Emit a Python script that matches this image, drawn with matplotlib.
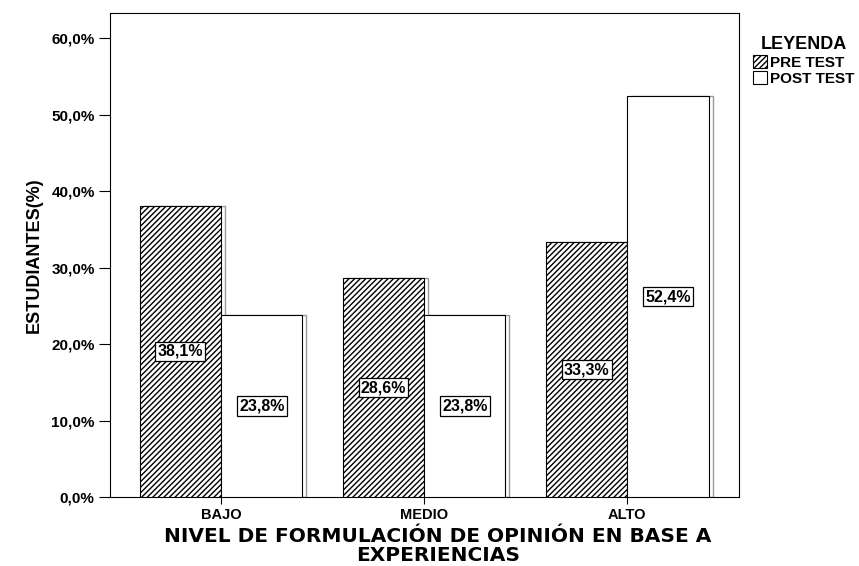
import matplotlib
matplotlib.use("Agg")
import matplotlib.pyplot as plt
import numpy as np

plt.rcParams['font.family'] = ['Liberation Sans', 'DejaVu Sans']
plt.rcParams['hatch.linewidth'] = 1.0

categories = ["BAJO", "MEDIO", "ALTO"]
pre_test = [38.1, 28.6, 33.3]
post_test = [23.8, 23.8, 52.4]
pre_labels = ["38,1%", "28,6%", "33,3%"]
post_labels = ["23,8%", "23,8%", "52,4%"]
yticks = [0, 10, 20, 30, 40, 50, 60]
ytick_labels = ["0,0%", "10,0%", "20,0%", "30,0%", "40,0%", "50,0%", "60,0%"]

fig = plt.figure(figsize=(8.59, 5.66), dpi=100)
ax = fig.add_axes([110/859, 1-497/566, (739-110)/859, (497-13)/566])

x = np.arange(len(categories))
w = 0.4
pre_bars = ax.bar(x - w/2, pre_test, w, facecolor='white', edgecolor='black',
                  hatch='//////', linewidth=0.8, label='PRE TEST', zorder=3)
post_bars = ax.bar(x + w/2, post_test, w, facecolor='white', edgecolor='black',
                   linewidth=0.8, label='POST TEST', zorder=3)
# subtle shadow edges
ax.bar(x - w/2 + 0.02, pre_test, w, facecolor='none', edgecolor='#999999',
       linewidth=1.0, zorder=2)
ax.bar(x + w/2 + 0.02, post_test, w, facecolor='none', edgecolor='#999999',
       linewidth=1.0, zorder=2)

for i in range(len(categories)):
    ax.text(x[i] - w/2, pre_test[i]/2, pre_labels[i], ha='center', va='center',
            fontsize=11.5, fontweight='bold', zorder=5,
            bbox=dict(boxstyle='square,pad=0.14', facecolor='white', edgecolor='black', linewidth=0.9))
    ax.text(x[i] + w/2, post_test[i]/2, post_labels[i], ha='center', va='center',
            fontsize=11.5, fontweight='bold', zorder=5,
            bbox=dict(boxstyle='square,pad=0.14', facecolor='white', edgecolor='black', linewidth=0.9))

ax.set_xlim(-0.547, 2.55)
ax.set_ylim(0, 63.3)
ax.set_yticks(yticks)
ax.set_yticklabels(ytick_labels, fontsize=11, fontweight='bold')
ax.set_xticks(x)
ax.set_xticklabels(categories, fontsize=10.5, fontweight='bold')
ax.tick_params(axis='y', direction='out', length=8, width=0.8, pad=3)
ax.tick_params(axis='x', direction='out', length=5, width=0.8, pad=3)
for s in ax.spines.values():
    s.set_linewidth(0.8)

ax.set_ylabel("ESTUDIANTES(%)", fontsize=13, fontweight='bold', labelpad=6)
fig.text(438/859, 1-546/566, "NIVEL DE FORMULACIÓN DE OPINIÓN EN BASE A\nEXPERIENCIAS",
         ha='center', va='center', fontsize=14.5, fontweight='bold', linespacing=1.0,
         family=['DejaVu Sans'])

leg = ax.legend(handles=[pre_bars, post_bars], title="LEYENDA", loc='upper left',
                bbox_to_anchor=(1.0, 0.98), frameon=False, fontsize=11,
                title_fontproperties={'weight': 'bold', 'size': 13},
                handlelength=0.9, handleheight=0.9, handletextpad=0.25,
                labelspacing=0.1, borderaxespad=0.6, borderpad=0.3)
for t in leg.get_texts():
    t.set_fontweight('bold')

fig.savefig("out.png", dpi=100)
